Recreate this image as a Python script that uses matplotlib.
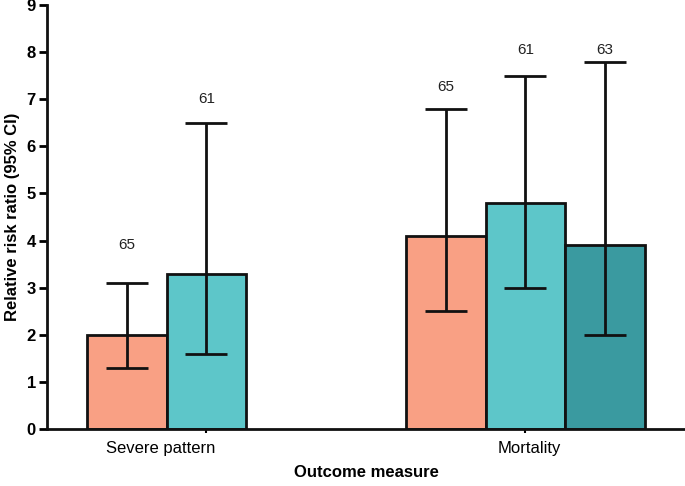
import numpy as np
import matplotlib.pyplot as plt

plt.rcParams['font.family'] = ['Liberation Sans', 'DejaVu Sans']

# Dados do gráfico
categorias = ["Severe pattern", "Mortality"]
posicoes = [1, 2, 5, 6, 7]
razao_risco = [2.0, 3.3, 4.1, 4.8, 3.9]
ic_inferior = [1.3, 1.6, 2.5, 3.0, 2.0]
ic_superior = [3.1, 6.5, 6.8, 7.5, 7.8]
n_estudos = ["65", "61", "65", "61", "63"]
altura_rotulo = [3.9, 7.0, 7.25, 8.05, 8.05]
cores = ["#F9A084", "#5DC6C9", "#F9A084", "#5DC6C9", "#3A9AA0"]

erro = [np.array(razao_risco) - np.array(ic_inferior),
        np.array(ic_superior) - np.array(razao_risco)]

fig = plt.figure(figsize=(6.85, 4.86), dpi=100)
ax = fig.add_axes([0.0686, 0.1173, 0.9314, 0.8724])

ax.bar(posicoes, razao_risco, width=1.0, color=cores,
       edgecolor="#111111", linewidth=2, zorder=2)
ax.errorbar(posicoes, razao_risco, yerr=erro, fmt="none",
            ecolor="#111111", elinewidth=2, capsize=15, capthick=2, zorder=3)

for x, y, txt in zip(posicoes, altura_rotulo, n_estudos):
    ax.text(x, y, txt, ha="center", va="center", fontsize=11, color="#222222")

ax.set_xlim(0, 8)
ax.set_ylim(0, 9)
ax.set_yticks(range(0, 10))
ax.set_yticklabels([str(i) for i in range(0, 10)], fontweight="bold", fontsize=12)
ax.set_xticks([1.43, 6.05])
ax.set_xticklabels(categorias, fontsize=12)
ax.set_xticks([2, 6], minor=True)
ax.tick_params(axis="x", which="major", length=0, pad=9)
ax.tick_params(axis="x", which="minor", length=3, width=1.5)
ax.tick_params(axis="y", length=6, width=2, pad=2)

for lado in ["top", "right"]:
    ax.spines[lado].set_visible(False)
for lado in ["left", "bottom"]:
    ax.spines[lado].set_linewidth(2)
    ax.spines[lado].set_color("#111111")

ax.set_ylabel("Relative risk ratio (95% CI)", fontweight="bold", fontsize=12, labelpad=5)
ax.set_xlabel("Outcome measure", fontweight="bold", fontsize=12, labelpad=6)

fig.savefig("out.png", dpi=100)
